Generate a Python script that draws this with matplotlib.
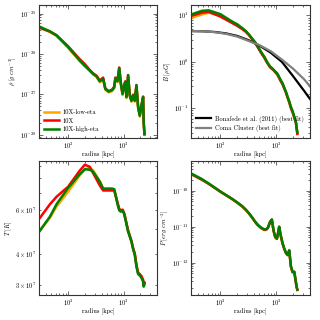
import numpy as np
import matplotlib
matplotlib.use("Agg")
import matplotlib.pyplot as plt

plt.rcParams["font.family"] = "serif"
plt.rcParams["font.serif"] = ["cmr10", "DejaVu Serif"]
plt.rcParams["mathtext.fontset"] = "cm"
plt.rcParams["axes.formatter.use_mathtext"] = True
plt.rcParams["font.size"] = 4.6

# =========================
# DATA
# =========================
radius_kpc = [30, 47, 62, 100, 162, 200, 245, 282, 324, 372, 427, 468, 537,
              617, 676, 708, 776, 832, 891, 955, 1023, 1072, 1122, 1202, 1288,
              1380, 1479, 1585, 1698, 1820, 1950, 2089, 2239, 2291, 2370]

rho_low = [4.6e-26, 3.5e-26, 2.8e-26, 1.42e-26, 6.6e-27, 4.9e-27, 3.8e-27, 3.1e-27,
           2.7e-27, 2.0e-27, 2.3e-27, 1.3e-27, 1.12e-27, 1.2e-27, 1.42e-27, 2.3e-27,
           2.0e-27, 4.3e-27, 1.7e-27, 9.6e-28, 1.6e-27, 1.9e-27, 8.1e-28, 2.8e-27,
           8.9e-28, 6.5e-28, 8.9e-28, 6.6e-28, 1.6e-27, 4.5e-28, 2.8e-28, 5.0e-28,
           8.1e-28, 1.9e-28, 1.0e-28]
rho_10x = [4.5e-26, 3.6e-26, 2.9e-26, 1.55e-26, 7.4e-27, 5.6e-27, 4.0e-27, 3.3e-27,
           2.9e-27, 2.2e-27, 2.6e-27, 1.4e-27, 1.2e-27, 1.3e-27, 1.55e-27, 2.6e-27,
           2.3e-27, 4.6e-27, 1.9e-27, 1.06e-27, 1.75e-27, 2.1e-27, 8.9e-28, 3.0e-27,
           9.6e-28, 7.2e-28, 9.8e-28, 7.2e-28, 1.7e-27, 5.0e-28, 3.1e-28, 5.4e-28,
           8.8e-28, 2.1e-28, 1.05e-28]
rho_high = [4.8e-26, 3.63e-26, 2.88e-26, 1.48e-26, 6.9e-27, 5.1e-27, 3.9e-27, 3.2e-27,
            2.8e-27, 2.1e-27, 2.4e-27, 1.35e-27, 1.17e-27, 1.26e-27, 1.48e-27, 2.4e-27,
            2.1e-27, 4.5e-27, 1.8e-27, 1.02e-27, 1.66e-27, 2.0e-27, 8.5e-28, 2.95e-27,
            9.3e-28, 6.9e-28, 9.3e-28, 6.9e-28, 1.66e-27, 4.8e-28, 2.95e-28, 5.2e-28,
            8.5e-28, 2.0e-28, 1.02e-28]

B_low = [8.9, 10.5, 11.5, 10.0, 7.2, 6.3, 5.3, 4.6, 3.85, 3.1, 2.5, 2.1, 1.6, 1.24,
         1.0, 0.92, 0.78, 0.73, 0.67, 0.61, 0.565, 0.515, 0.46, 0.39, 0.34, 0.275,
         0.225, 0.175, 0.138, 0.105, 0.085, 0.064, 0.049, 0.039, 0.029]
B_10x = [9.8, 11.5, 12.0, 9.5, 6.9, 6.0, 5.1, 4.5, 3.8, 3.05, 2.45, 2.05, 1.55, 1.2,
         0.98, 0.9, 0.76, 0.71, 0.66, 0.6, 0.55, 0.5, 0.45, 0.38, 0.33, 0.27, 0.22,
         0.17, 0.135, 0.1, 0.082, 0.063, 0.048, 0.038, 0.028]
B_high = [10.5, 12.6, 12.9, 10.7, 7.41, 6.46, 5.37, 4.68, 3.89, 3.16, 2.57, 2.14, 1.62,
          1.26, 1.02, 0.93, 0.79, 0.74, 0.68, 0.62, 0.575, 0.525, 0.47, 0.40, 0.35,
          0.28, 0.23, 0.178, 0.141, 0.107, 0.087, 0.066, 0.050, 0.040, 0.030]

fit_radius_kpc = [30, 50, 79, 126, 200, 316, 501, 794, 1259, 1995, 3162, 4000]
B_bonafede = [4.62, 4.57, 4.42, 4.12, 3.63, 2.95, 2.24, 1.58, 1.0, 0.49, 0.234, 0.158]
B_coma = [4.62, 4.57, 4.37, 4.03, 3.51, 2.85, 2.29, 1.70, 1.12, 0.71, 0.417, 0.295]

T_low = [4.89e7, 5.56e7, 6.17e7, 7.08e7, 8.22e7, 8.71e7, 8.81e7, 8.61e7, 8.2e7,
         7.8e7, 7.3e7, 7.28e7, 7.28e7, 7.28e7, 7.24e7, 6.95e7, 6.35e7, 6.0e7, 5.92e7,
         5.98e7, 5.78e7, 5.52e7, 5.28e7, 4.93e7, 4.7e7, 4.5e7, 4.2e7, 3.98e7, 3.58e7,
         3.34e7, 3.3e7, 3.23e7, 3.12e7, 2.98e7, 3.04e7]
T_10x = [5.5e7, 6.3e7, 6.76e7, 7.41e7, 8.6e7, 9.08e7, 8.91e7, 8.41e7, 7.94e7,
         7.5e7, 7.16e7, 7.16e7, 7.16e7, 7.16e7, 7.16e7, 6.9e7, 6.4e7, 6.05e7, 5.95e7,
         6.0e7, 5.8e7, 5.55e7, 5.3e7, 4.95e7, 4.72e7, 4.5e7, 4.2e7, 4.0e7, 3.6e7,
         3.36e7, 3.31e7, 3.25e7, 3.14e7, 3.0e7, 3.06e7]
T_high = [4.89e7, 5.62e7, 6.31e7, 7.33e7, 8.32e7, 8.71e7, 8.67e7, 8.51e7, 8.13e7,
          7.76e7, 7.28e7, 7.28e7, 7.28e7, 7.28e7, 7.24e7, 6.92e7, 6.31e7, 5.96e7,
          5.89e7, 5.96e7, 5.75e7, 5.5e7, 5.25e7, 4.9e7, 4.68e7, 4.47e7, 4.17e7,
          3.95e7, 3.55e7, 3.31e7, 3.27e7, 3.2e7, 3.09e7, 2.95e7, 3.02e7]

P_low = [2.95e-10, 2.05e-10, 1.56e-10, 9.3e-11, 5.8e-11, 4.6e-11, 3.6e-11, 2.95e-11,
         2.3e-11, 1.74e-11, 1.28e-11, 1.08e-11, 9.0e-12, 8.0e-12, 8.4e-12, 9.2e-12,
         1.34e-11, 1.54e-11, 7.6e-12, 5.0e-12, 4.5e-12, 6.4e-12, 9.7e-12, 5.4e-12,
         3.4e-12, 2.4e-12, 1.84e-12, 1.6e-12, 2.1e-12, 7.6e-13, 5.3e-13, 5.4e-13,
         2.7e-13, 2.1e-13, 1.72e-13]
P_10x = [2.9e-10, 2.0e-10, 1.55e-10, 9.4e-11, 5.9e-11, 4.7e-11, 3.7e-11, 3.0e-11,
         2.35e-11, 1.76e-11, 1.3e-11, 1.1e-11, 9.1e-12, 8.1e-12, 8.5e-12, 9.3e-12,
         1.36e-11, 1.56e-11, 7.7e-12, 5.1e-12, 4.6e-12, 6.5e-12, 9.8e-12, 5.5e-12,
         3.45e-12, 2.45e-12, 1.86e-12, 1.62e-12, 2.15e-12, 7.7e-13, 5.4e-13, 5.5e-13,
         2.75e-13, 2.15e-13, 1.75e-13]
P_high = [3.02e-10, 2.09e-10, 1.58e-10, 9.5e-11, 5.9e-11, 4.7e-11, 3.7e-11, 3.0e-11,
          2.35e-11, 1.78e-11, 1.32e-11, 1.12e-11, 9.3e-12, 8.3e-12, 8.7e-12, 9.5e-12,
          1.38e-11, 1.58e-11, 7.9e-12, 5.2e-12, 4.7e-12, 6.6e-12, 1.0e-11, 5.6e-12,
          3.5e-12, 2.5e-12, 1.9e-12, 1.66e-12, 2.2e-12, 7.9e-13, 5.5e-13, 5.6e-13,
          2.8e-13, 2.2e-13, 1.78e-13]

run_labels = ["10X-low-eta", "10X", "10X-high-eta"]
run_colors = ["orange", "red", "green"]


# =========================
# HELPERS
# =========================
def style_axis(ax, ylabel):
    ax.set_xscale("log")
    ax.set_yscale("log")
    ax.set_xlim(30, 4000)
    ax.set_xlabel("radius [kpc]", labelpad=0)
    ax.set_ylabel(ylabel, labelpad=0.5)
    ax.tick_params(which="both", direction="in", top=True, right=True,
                   width=0.5, color="#333333", labelsize=4.6, pad=2)
    ax.tick_params(which="major", length=3)
    ax.tick_params(which="minor", length=1.5)
    for s in ax.spines.values():
        s.set_linewidth(0.8)
        s.set_color("#333333")


def add_legend(ax, handles=None):
    ax.legend(handles=handles, loc="lower left", frameon=False, fontsize=4.6,
              handlelength=2.35, handletextpad=0.5, labelspacing=0.45,
              borderaxespad=0.45)


def plot_runs(ax, series):
    for ys, lab, col in zip(series, run_labels, run_colors):
        ax.plot(radius_kpc, ys, color=col, lw=1.8, label=lab)


fig = plt.figure(figsize=(3.2, 3.2), dpi=100)

# density
ax1 = fig.add_axes([0.122, 0.569, 0.369, 0.416])
plot_runs(ax1, [rho_low, rho_10x, rho_high])
style_axis(ax1, r"$\rho\ [g\ cm^{-3}]$")
ax1.set_ylim(8.3e-29, 1.65e-25)
add_legend(ax1)

# magnetic field
ax2 = fig.add_axes([0.597, 0.569, 0.372, 0.416])
plot_runs(ax2, [B_low, B_10x, B_high])
l1, = ax2.plot(fit_radius_kpc, B_bonafede, color="black", lw=1.6,
               label="Bonafede et al. (2011) (best fit)")
l2, = ax2.plot(fit_radius_kpc, B_coma, color="gray", lw=1.6,
               label="Coma Cluster (best fit)")
style_axis(ax2, r"$B\ [\mu G]$")
ax2.set_ylim(0.023, 17)
add_legend(ax2, [l1, l2])

# temperature
ax3 = fig.add_axes([0.122, 0.078, 0.369, 0.419])
plot_runs(ax3, [T_low, T_10x, T_high])
style_axis(ax3, r"$T\ [K]$")
ax3.set_ylim(2.73e7, 9.4e7)

# pressure
ax4 = fig.add_axes([0.597, 0.078, 0.372, 0.419])
plot_runs(ax4, [P_low, P_10x, P_high])
style_axis(ax4, r"$P\ [erg\ cm^{-3}]$")
ax4.set_ylim(1.25e-13, 6.7e-10)

fig.savefig("out.png", dpi=100)
